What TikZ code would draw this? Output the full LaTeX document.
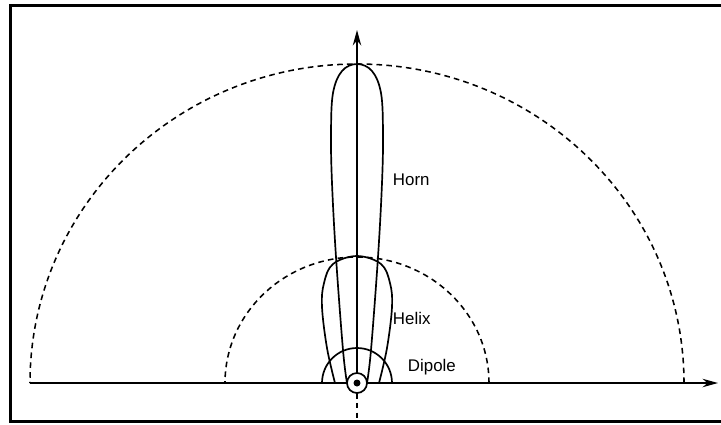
\documentclass[tikz,border=0pt]{standalone}
\usepackage{fontspec}
\setmainfont{Liberation Sans}
\usetikzlibrary{arrows.meta}
\begin{document}
\begin{tikzpicture}[x=0.025cm,y=0.025cm]
% rayons des cercles de reference (en pixels)
\def\rgrand{327}
\def\rmoyen{132}
\def\rdipole{35}
\tikzset{
  lobe/.style={line width=1.2pt},
  cercle/.style={line width=1.1pt, dash pattern=on 4pt off 3pt},
  axe/.style={line width=1.1pt, -{Stealth[length=11pt,width=6pt]}},
  etiquette/.style={anchor=west, font=\fontsize{12}{14}\selectfont}
}
\useasboundingbox (-357,-41) rectangle (364,383);

% cadre
\draw[line width=2.5pt] (364,377.5) -- (-346.5,377.5) -- (-346.5,-38.5) -- (364,-38.5);

% axes
\draw[axe] (-\rgrand,0) -- (361,0);
\draw[axe] (0,0) -- (0,353);
\draw[cercle] (0,-10) -- (0,-38);

% cercles en pointilles
\draw[cercle] (\rgrand,0) arc[start angle=0, end angle=180, x radius=\rgrand, y radius=319];
\draw[cercle] (\rmoyen,0) arc[start angle=0, end angle=180, x radius=\rmoyen, y radius=126];

% dipole
\draw[lobe] (\rdipole,0) arc[start angle=0, end angle=180, radius=\rdipole];

% helice
\draw[lobe] plot[smooth, tension=0.6] coordinates {(-22,0) (-30,35) (-35,76) (-33,100) (-24,119) (0,127) (24,119) (33,100) (35,76) (30,35) (22,0)};

% cornet
\draw[lobe] plot[smooth, tension=0.6] coordinates {(-10,0) (-14,33) (-21,126) (-25,200) (-26,250) (-24,290) (-15,312) (0,319) (15,312) (24,290) (26,250) (25,200) (21,126) (14,33) (10,0)};

% source
\draw[lobe, fill=white] (0,0) circle (10);
\fill (0,0) circle (3.5);

\node[etiquette] (horn) at (31,203) {Horn};
\node[etiquette] (helix) at (31,65) {Helix};
\node[etiquette] (dipole) at (46,16) {Dipole};
\end{tikzpicture}
\end{document}
